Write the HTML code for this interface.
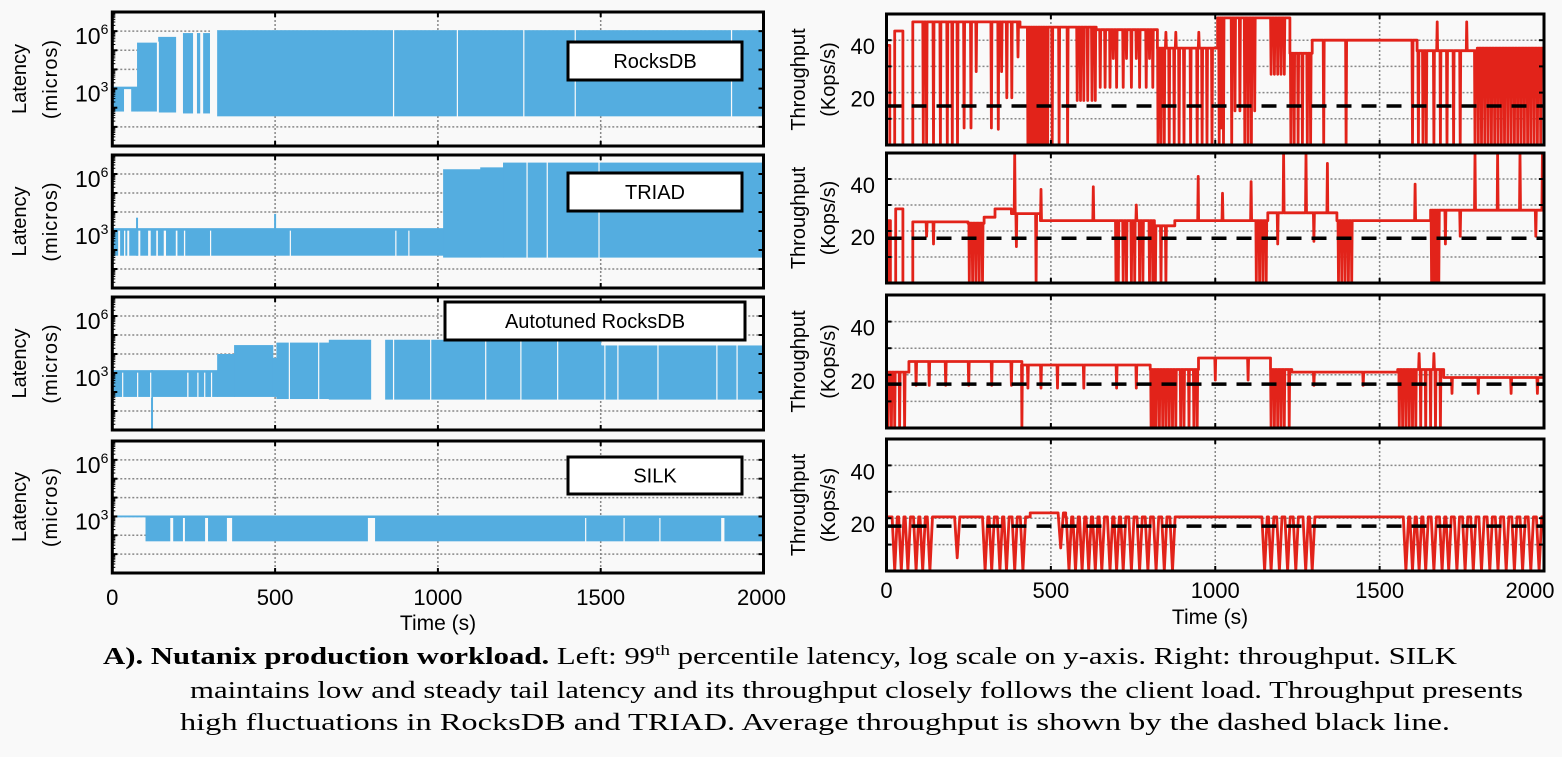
<!DOCTYPE html>
<html><head><meta charset="utf-8"><style>
html,body{margin:0;padding:0;background:#f9f9f9;}
svg{display:block;font-family:"Liberation Sans",sans-serif;}
</style></head><body>
<svg id="fig" width="1562" height="757" viewBox="0 0 1562 757">
<rect x="0" y="0" width="1562" height="757" fill="#f9f9f9"/>
<g id="plots"></g>
<g font-family="'Liberation Serif',serif" font-size="24" fill="#000">
<text x="103" y="664" textLength="1354" lengthAdjust="spacingAndGlyphs"><tspan font-weight="bold">A). Nutanix production workload.</tspan> Left: 99<tspan font-size="15" dy="-9">th</tspan><tspan dy="9"> percentile latency, log scale on y-axis. Right: throughput.  SILK</tspan></text>
<text x="190" y="698" textLength="1333" lengthAdjust="spacingAndGlyphs">maintains low and steady tail latency and its throughput closely follows the client load. Throughput presents</text>
<text x="180" y="730" textLength="1270" lengthAdjust="spacingAndGlyphs">high fluctuations in RocksDB and TRIAD. Average throughput is shown by the dashed black line.</text>
</g>
</svg>
<script>
// ---------- LEFT (latency, log10 exponent) data ----------
const rdbBreaks = [0, 76, 141, 217, 300, 2000];
const rdbHi = [3.1, 5.4, 5.7, 5.9, 6.05];
const rdbLo = [1.8, 1.8, 1.75, 1.7, 1.55];
const rdbGaps = [[36,58,1],[137,143,0],[196,217,0],[248,260,0],[270,279,0],[300,322,0],[862,865,0],[1058,1061,0],[1262,1265,0],[1420,1422,0],[1900,1902,0]];
const rdbSpikes = [];

const triBreaks = [0, 1016, 1130, 1200, 2000];
const triHi = [3.15, 6.25, 6.35, 6.6];
const triLo = [1.7, 1.6, 1.6, 1.6];
const triGaps = [[18,24,1],[36,40,1],[46,52,1],[80,86,1],[110,118,1],[135,140,1],[158,165,1],[195,200,1],[220,224,1],[300,302,1],[545,547,1],[869,871,1],[909,911,1],[1272,1275,0],[1334,1336,0],[1493,1496,0]];
const triSpikes = [[76,3.7],[500,3.9]];

const autBreaks = [0, 322, 374, 493, 504, 665, 1500, 2000];
const autHi = [3.15, 4.0, 4.47, 3.8, 4.6, 4.75, 4.45];
const autLo = [1.74, 1.74, 1.74, 1.74, 1.63, 1.6, 1.6];
const autGaps = [[30,33,1],[76,79,1],[116,119,1],[230,234,1],[261,264,1],[282,285,1],[303,306,1],[542,545,0],[632,635,0],[795,838,0],[862,865,0],[976,979,0],[1145,1148,0],[1253,1256,0],[1366,1369,0],[1511,1514,0],[1551,1554,0],[1674,1677,0],[1855,1858,0],[1917,1920,0]];
const autSpikes = [[122,0]];

const silBreaks = [0, 102, 2000];
const silHi = [3.05, 3.05];
const silLo = [2.95, 1.68];
const silGaps = [[178,187,1],[217,223,1],[285,294,1],[352,368,1],[785,807,1],[1452,1455,1],[1570,1573,1],[1680,1683,1],[1870,1880,1]];
const silSpikes = [];

// ---------- RIGHT (throughput Kops/s) data ----------
const r1Segs = [[0,10,38],[10,25,0],[25,50,43.5],[50,80,0],[80,406,47],[406,573,45],[573,638,45],[638,824,44],[824,1007,37],[1007,1227,48.5],[1227,1295,35],[1295,1614,40],[1614,1797,36],[1797,2000,37]];
const r1Drops = [[112,0],[122,0],[143,0],[164,0],[185,0],[200,0],[216,0],[236,6.5],[257,6.5],[273,28],[319,6.5],[340,6],[350,28],[366,18],[381,18],[400,33.6],
[430,0],[437,0],[445,0],[452,0],[460,0],[468,0],[475,0],[483,0],[490,0],[504,0],[525,0],[551,0],
[580,17],[590,17],[600,17],[612,17],[625,17],[635,17],
[650,22],[665,22],[680,22],[690,33],[700,22],[720,22],[730,33],[745,22],[760,33],[770,22],[790,22],[800,33],[810,22],
[826,0],[835,0],[845,0],[850,43],[860,0],[875,0],[880,43],[890,0],[905,0],[925,0],[945,0],[950,43],[960,0],[975,0],[990,0],
[1012,0],[1018,6.5],[1025,0],[1050,0],[1060,13],[1075,13],[1090,0],[1100,0],[1110,0],[1120,13],[1170,27],[1180,27],[1190,27],[1200,27],[1210,27],
[1230,0],[1240,0],[1252,0],[1265,0],[1280,0],[1290,0],[1330,0],[1398,0],[1600,0],
[1618,0],[1632,0],[1642,0],[1665,0],[1675,47],[1685,0],[1705,0],[1725,0],[1745,0],[1765,47],[1790,0],
[1800,0],[1810,0],[1820,0],[1830,0],[1840,0],[1850,0],[1860,0],[1870,0],[1880,0],[1890,0],[1900,0],[1910,0],[1920,0],[1930,0],[1940,0],[1950,0],[1960,0],[1970,0],[1980,0],[1990,0]];
const r1Avg = 14.9;

const r2Segs = [[0,12,24],[12,28,0],[28,50,28.5],[50,80,0],[80,248,23.5],[248,297,23],[297,330,25.3],[330,380,28.5],[380,468,26.7],[468,815,24],[815,877,22],[877,1160,24],[1160,1370,27],[1370,1425,24],[1425,1655,24],[1655,2000,28]];
const r2Drops = [[5,0],[122,18],[143,15],[252,0],[262,0],[272,0],[282,0],[292,0],[390,50],[395,14],[455,0],[470,36],[629,37],
[698,0],[705,0],[720,0],[730,0],[745,0],[755,0],[760,30],[770,0],[780,0],[800,0],[810,0],[818,0],[835,0],[850,0],
[948,41],[1022,34.5],[1109,39],[1125,0],[1135,0],[1145,0],[1155,0],[1190,15],[1208,50],[1276,50],[1300,16],[1341,46],
[1375,0],[1385,0],[1395,0],[1405,0],[1415,0],[1608,38],[1658,0],[1665,0],[1672,0],[1680,0],[1700,15],[1745,18],[1790,50],[1859,50],[1927,50],[1975,18],[1995,50]];
const r2Avg = 17.2;

const r3Segs = [[0,68,21],[68,412,25],[412,802,23.7],[802,949,22],[949,1168,26.3],[1168,1233,22],[1233,1555,21],[1555,1695,22],[1695,2000,19]];
const r3Drops = [[5,0],[15,0],[25,0],[40,0],[55,0],[90,16],[130,16],[180,16],[250,16],[320,16],[380,16],[412,0],
[430,15],[470,15],[520,15],[600,15],[700,15],[760,15],
[805,0],[812,0],[820,0],[830,0],[840,0],[850,0],[860,0],[870,0],[880,0],[895,0],[905,0],[920,0],[935,0],[945,0],
[1000,18],[1100,18],[1170,0],[1180,0],[1190,0],[1200,0],[1210,0],[1225,0],[1300,16],[1450,16],
[1560,0],[1570,0],[1580,0],[1590,0],[1600,0],[1610,0],[1620,28],[1625,0],[1640,0],[1655,0],[1665,28],[1670,0],[1685,0],
[1720,13],[1800,13],[1900,13],[1980,13]];
const r3Avg = 16.5;

const r4Segs = [[0,437,20.5],[437,545,22],[545,2000,20.5]];
const r4Drops = [[25,0],[45,0],[65,0],[90,0],[110,0],[132,0],[215,5],[300,0],[320,0],[345,0],[365,0],[390,0],[415,0],[530,8.7],
[555,0],[575,0],[595,0],[615,0],[635,0],[655,0],[680,0],[700,0],[720,0],[745,0],[770,0],[795,0],[820,0],[845,0],[870,0],
[1150,0],[1170,0],[1195,0],[1220,0],[1245,0],[1275,0],[1295,0],
[1580,0],[1600,0],[1620,0],[1640,0],[1665,0],[1690,0],[1710,0],[1735,0],[1760,0],[1785,0],[1810,0],[1835,0],[1860,0],[1885,0],[1910,0],[1935,0],[1960,0],[1985,0]];
const r4Avg = 17.0;

const timeTicks = [0, 500, 1000, 1500, 2000];
const thrTicks = [20, 40];
const latTicks = [3, 6];

// ---------- layout ----------
const NS = "http://www.w3.org/2000/svg";
const root = document.getElementById('plots');
const BG = '#f9f9f9', BLUE = '#54ade0', RED = '#e2231a';
function mk(tag, attrs, parent) {
  const e = document.createElementNS(NS, tag);
  for (const k in attrs) e.setAttribute(k, attrs[k]);
  (parent || root).appendChild(e);
  return e;
}
const LX0 = 112.3, LX1 = 763.5, RX0 = 886.5, RX1 = 1544;
const leftRows = [[12,146],[155,288],[297,430],[441,573]];
const rightRows = [[14,145],[153,283],[295,428],[439,571]];
const lxs = t => LX0 + t / 2000 * (LX1 - LX0);
const rxs = t => RX0 + t / 2000 * (RX1 - RX0);

function segAt(breaks, arr, t) {
  for (let i = 0; i < breaks.length - 1; i++) if (t >= breaks[i] && t < breaks[i+1]) return arr[i];
  return arr[arr.length-1];
}

function leftPanel(idx, name, breaks, hi, lo, gaps, spikes, label, box) {
  const [y0, y1] = leftRows[idx];
  const ys = e => y1 - e / 7 * (y1 - y0);
  const g = mk('g', {});
  
  
  const cid = 'lc' + idx;
  const cp = mk('clipPath', {id: cid}, g);
  mk('rect', {x: LX0, y: y0, width: LX1 - LX0, height: y1 - y0}, cp);
  for (let e = 1; e <= 6; e++) {
    const gl = mk('line', {x1: LX0, x2: LX1, y1: ys(e), y2: ys(e), stroke: '#888', 'stroke-width': 1.5, 'stroke-dasharray': '2 2'}, g);
    
    
  }
  [500, 1000, 1500].forEach(t => {
    const gl = mk('line', {x1: lxs(t), x2: lxs(t), y1: y0, y2: y1, stroke: '#888', 'stroke-width': 1.5, 'stroke-dasharray': '2 2'}, g);
    
    
  });
  const dg = mk('g', {'clip-path': 'url(#' + cid + ')'}, g);
  for (let i = 0; i < breaks.length - 1; i++) {
    const r = mk('rect', {x: lxs(breaks[i]), y: ys(hi[i]), width: lxs(breaks[i+1]) - lxs(breaks[i]) + 0.5, height: ys(lo[i]) - ys(hi[i]), fill: BLUE}, dg);
    
    
  }
  spikes.forEach(s => {
    const h = segAt(breaks, hi, s[0]), l = segAt(breaks, lo, s[0]);
    const top = Math.max(h, s[1]), bot = Math.min(l, s[1]);
    const r = mk('rect', {x: lxs(s[0]) - 1, y: ys(top), width: 2, height: ys(bot) - ys(top), fill: BLUE}, dg);
    
    
  });
  gaps.forEach(gp => {
    const h = segAt(breaks, hi, gp[0]), l = segAt(breaks, lo, gp[0]);
    const top = ys(h) + (gp[2] ? 2.5 : -1);
    const r = mk('rect', {x: lxs(gp[0]), y: top, width: Math.max(1.2, lxs(gp[1]) - lxs(gp[0])), height: ys(l) + 1 - top, fill: BG}, dg);
    
    
  });
  for (let e = 0; e <= 7; e++) {
    mk('line', {x1: LX0, x2: LX0 + 5, y1: ys(e), y2: ys(e), stroke: '#000', 'stroke-width': 2}, g);
    mk('line', {x1: LX1, x2: LX1 - 5, y1: ys(e), y2: ys(e), stroke: '#000', 'stroke-width': 2}, g);
    if (e < 7) for (let m = 2; m <= 9; m++) {
      const yy = ys(e + Math.log10(m));
      mk('line', {x1: LX0, x2: LX0 + 3, y1: yy, y2: yy, stroke: '#000', 'stroke-width': 1}, g);
    }
  }
  timeTicks.forEach(t => {
    mk('line', {x1: lxs(t), x2: lxs(t), y1: y0, y2: y0 + 5, stroke: '#000', 'stroke-width': 2}, g);
    mk('line', {x1: lxs(t), x2: lxs(t), y1: y1, y2: y1 - 5, stroke: '#000', 'stroke-width': 2}, g);
  });
  const fr = mk('rect', {x: LX0, y: y0, width: LX1 - LX0, height: y1 - y0, fill: 'none', stroke: '#000', 'stroke-width': 3}, g);
  
  
  latTicks.forEach(e => {
    const t = mk('text', {x: 75, y: ys(e) + 13, 'font-size': 23, fill: '#000'}, g);
    
    
    t.textContent = '10';
    const s = mk('tspan', {'font-size': 14, dy: -10}, t);
    s.textContent = String(e);
  });
  const cy = (y0 + y1) / 2;
  const a = mk('text', {x: 20, y: cy, transform: 'rotate(-90 20 ' + cy + ')', 'text-anchor': 'middle', 'dominant-baseline': 'central', 'font-size': 20}, g);
  
  
  a.textContent = 'Latency';
  const b = mk('text', {x: 51, y: cy, transform: 'rotate(-90 51 ' + cy + ')', 'text-anchor': 'middle', 'dominant-baseline': 'central', 'font-size': 20, 'letter-spacing': 1}, g);
  
  
  b.textContent = '(micros)';
  const lb = mk('rect', {x: box[0], y: box[1], width: box[2], height: box[3], fill: '#fff', stroke: '#000', 'stroke-width': 3}, g);
  
  
  const lt = mk('text', {x: box[0] + box[2] / 2, y: box[1] + box[3] / 2 + 1, 'text-anchor': 'middle', 'dominant-baseline': 'central', 'font-size': 20}, g);
  
  
  lt.textContent = label;
}

function rightPanel(idx, name, segs, drops, avg, w) {
  const [y0, y1] = rightRows[idx];
  const ys = v => y1 - v / 50 * (y1 - y0);
  const g = mk('g', {});
  
  
  const cid = 'rc' + idx;
  const cp = mk('clipPath', {id: cid}, g);
  mk('rect', {x: RX0, y: y0, width: RX1 - RX0, height: y1 - y0}, cp);
  [10, 20, 30, 40].forEach(v => {
    const gl = mk('line', {x1: RX0, x2: RX1, y1: ys(v), y2: ys(v), stroke: '#888', 'stroke-width': 1.5, 'stroke-dasharray': '2 2'}, g);
    
    
  });
  [500, 1000, 1500].forEach(t => {
    const gl = mk('line', {x1: rxs(t), x2: rxs(t), y1: y0, y2: y1, stroke: '#888', 'stroke-width': 1.5, 'stroke-dasharray': '2 2'}, g);
    
    
  });
  const pts = [];
  const sd = drops.slice().sort((a, b) => a[0] - b[0]);
  segs.forEach(s => {
    pts.push([s[0], s[2]]);
    sd.forEach(d => {
      if (d[0] >= s[0] && d[0] < s[1]) {
        pts.push([d[0] - w, s[2]]); pts.push([d[0], d[1]]); pts.push([d[0] + w, s[2]]);
      }
    });
    pts.push([s[1], s[2]]);
  });
  const pl = mk('polyline', {points: pts.map(p => rxs(p[0]).toFixed(1) + ',' + ys(p[1]).toFixed(1)).join(' '), fill: 'none', stroke: RED, 'stroke-width': 2.8, 'stroke-linejoin': 'round', 'clip-path': 'url(#' + cid + ')'}, g);
  
  
  const av = mk('line', {x1: RX0, x2: RX1, y1: ys(avg), y2: ys(avg), stroke: '#000', 'stroke-width': 3.5, 'stroke-dasharray': '15 10'}, g);
  
  
  [0, 10, 20, 30, 40, 50].forEach(v => {
    mk('line', {x1: RX0, x2: RX0 + 5, y1: ys(v), y2: ys(v), stroke: '#000', 'stroke-width': 2}, g);
    mk('line', {x1: RX1, x2: RX1 - 5, y1: ys(v), y2: ys(v), stroke: '#000', 'stroke-width': 2}, g);
  });
  timeTicks.forEach(t => {
    mk('line', {x1: rxs(t), x2: rxs(t), y1: y0, y2: y0 + 5, stroke: '#000', 'stroke-width': 2}, g);
    mk('line', {x1: rxs(t), x2: rxs(t), y1: y1, y2: y1 - 5, stroke: '#000', 'stroke-width': 2}, g);
  });
  const fr = mk('rect', {x: RX0, y: y0, width: RX1 - RX0, height: y1 - y0, fill: 'none', stroke: '#000', 'stroke-width': 3}, g);
  
  
  thrTicks.forEach(v => {
    const t = mk('text', {x: 875, y: ys(v) + 14, 'text-anchor': 'end', 'font-size': 22}, g);
    
    
    t.textContent = String(v);
  });
  const cy = (y0 + y1) / 2;
  const a = mk('text', {x: 799, y: cy, transform: 'rotate(-90 799 ' + cy + ')', 'text-anchor': 'middle', 'dominant-baseline': 'central', 'font-size': 20}, g);
  
  
  a.textContent = 'Throughput';
  const b = mk('text', {x: 829, y: cy, transform: 'rotate(-90 829 ' + cy + ')', 'text-anchor': 'middle', 'dominant-baseline': 'central', 'font-size': 20}, g);
  
  
  b.textContent = '(Kops/s)';
}

leftPanel(0, 'rocksdb', rdbBreaks, rdbHi, rdbLo, rdbGaps, rdbSpikes, 'RocksDB', [568, 42, 174, 38]);
leftPanel(1, 'triad', triBreaks, triHi, triLo, triGaps, triSpikes, 'TRIAD', [568, 173, 174, 38]);
leftPanel(2, 'autotuned', autBreaks, autHi, autLo, autGaps, autSpikes, 'Autotuned RocksDB', [445, 302, 300, 38]);
leftPanel(3, 'silk', silBreaks, silHi, silLo, silGaps, silSpikes, 'SILK', [568, 457, 174, 37]);
rightPanel(0, 'rocksdb', r1Segs, r1Drops, r1Avg, 1.5);
rightPanel(1, 'triad', r2Segs, r2Drops, r2Avg, 1.5);
rightPanel(2, 'autotuned', r3Segs, r3Drops, r3Avg, 1.5);
rightPanel(3, 'silk', r4Segs, r4Drops, r4Avg, 8);

timeTicks.forEach(t => {
  const a = mk('text', {x: t === 2000 ? lxs(t) - 2 : lxs(t), y: 605, 'text-anchor': 'middle', 'font-size': 22});
  
  
  a.textContent = String(t);
  const b = mk('text', {x: t === 2000 ? rxs(t) - 14 : rxs(t), y: 598, 'text-anchor': 'middle', 'font-size': 22});
  
  
  b.textContent = String(t);
});
const xt1 = mk('text', {x: 438, y: 630, 'text-anchor': 'middle', 'font-size': 21});


xt1.textContent = 'Time (s)';
const xt2 = mk('text', {x: 1210, y: 624, 'text-anchor': 'middle', 'font-size': 21});


xt2.textContent = 'Time (s)';
</script>
</body></html>
